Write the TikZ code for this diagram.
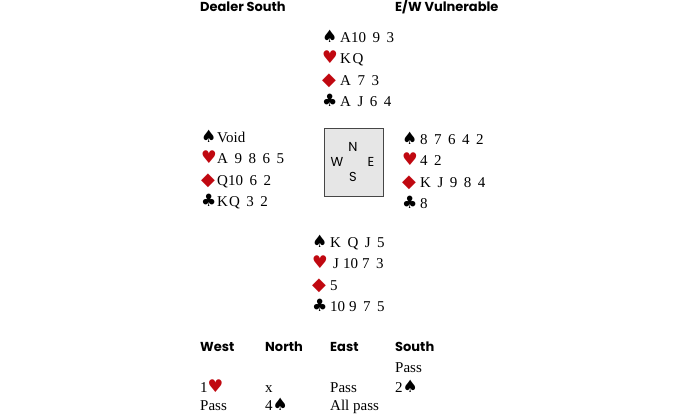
\documentclass[tikz,border=0pt]{standalone}
\usepackage{fontspec}
\setmainfont{Liberation Serif}
\newfontfamily\headfont{Poppins}
\newfontfamily\suitfont{DejaVu Sans}
\definecolor{cardred}{RGB}{192,8,16}
\definecolor{boxfill}{RGB}{230,230,230}
\definecolor{boxline}{RGB}{70,70,70}
\newcommand\gp{\hspace{6.5pt}}
\newcommand\sS{{\suitfont\fontsize{17}{18}\selectfont ♠}}
\newcommand\sH{{\suitfont\fontsize{17.5}{18}\selectfont\color{cardred}♥}}
\newcommand\sD{\raisebox{-0.8pt}{\suitfont\fontsize{18}{18}\selectfont\color{cardred}◆}}
\newcommand\sC{{\suitfont\fontsize{17}{18}\selectfont ♣}}
\newcommand\hrow[3][17pt]{\makebox[#1][l]{#2}#3}
\tikzset{
  handtxt/.style={anchor=base west, inner sep=0pt, font=\fontsize{15}{18}\selectfont},
  headtxt/.style={anchor=base west, inner sep=0pt, font=\headfont\bfseries\fontsize{13}{15}\selectfont},
  compass/.style={inner sep=0pt, font=\headfont\fontsize{13}{15}\selectfont},
  bidtxt/.style={anchor=base west, inner sep=0pt, font=\fontsize{15}{18}\selectfont},
}
\begin{document}
\begin{tikzpicture}[x=1pt,y=-1pt]
\useasboundingbox (0,0) rectangle (700,413);
% headings
\node[headtxt] (dealer) at (200,11) {Dealer South};
\node[headtxt] (vul) at (395,11) {E/W Vulnerable};
% North
\node[handtxt] (n1) at (322,42) {\hrow[18pt]{\sS}{A10\gp 9\gp 3}};
\node[handtxt] (n2) at (322,63.5) {\hrow[18pt]{\sH}{K\kern1.5pt Q}};
\node[handtxt] (n3) at (322,85) {\hrow[18pt]{\sD}{A\gp 7\gp 3}};
\node[handtxt] (n4) at (322,106.5) {\hrow[18pt]{\sC}{A\gp J\gp 6\gp 4}};
% West
\node[handtxt] (w1) at (201,142) {\hrow[16pt]{\sS}{Void}};
\node[handtxt] (w2) at (201,163.5) {\hrow[16pt]{\sH}{A\gp 9\gp 8\gp 6\gp 5}};
\node[handtxt] (w3) at (201,185) {\hrow[16pt]{\sD}{Q10\gp 6\gp 2}};
\node[handtxt] (w4) at (201,206.5) {\hrow[16pt]{\sC}{K\kern1pt Q\gp 3\gp 2}};
% compass box
\node[draw=boxline, fill=boxfill, line width=1pt, minimum width=59pt, minimum height=68pt, inner sep=0pt] (box) at (353.5,162) {};
\node[compass] (cn) at (353,147) {N};
\node[compass] (cw) at (337,162) {W};
\node[compass] (ce) at (371,162) {E};
\node[compass] (cs) at (353,177) {S};
% East
\node[handtxt] (e1) at (402,144) {\hrow[18pt]{\sS}{8\gp 7\gp 6\gp 4\gp 2}};
\node[handtxt] (e2) at (402,165.5) {\hrow[18pt]{\sH}{4\gp 2}};
\node[handtxt] (e3) at (402,187) {\hrow[18pt]{\sD}{K\gp J\gp 9\gp 8\gp 4}};
\node[handtxt] (e4) at (402,208.5) {\hrow[18pt]{\sC}{8}};
% South
\node[handtxt] (s1) at (312,247) {\hrow[18pt]{\sS}{K\gp Q\gp J\gp 5}};
\node[handtxt] (s2) at (312,268.5) {\hrow[18pt]{\sH}{\hspace{3pt}J\hspace{4pt}10\hspace{4pt}7\gp 3}};
\node[handtxt] (s3) at (312,290) {\hrow[18pt]{\sD}{5}};
\node[handtxt] (s4) at (312,311.5) {\hrow[18pt]{\sC}{10\hspace{4pt}9\gp 7\gp 5}};
% auction
\node[headtxt] (hw) at (200,351) {West};
\node[headtxt] (hn) at (265,351) {North};
\node[headtxt] (he) at (330,351) {East};
\node[headtxt] (hs) at (395,351) {South};
\node[bidtxt] (b1) at (395,372) {Pass};
\node[bidtxt] (b2) at (200,392) {1\sH};
\node[bidtxt] (b3) at (265,392) {x};
\node[bidtxt] (b4) at (330,392) {Pass};
\node[bidtxt] (b5) at (395,392) {2\sS};
\node[bidtxt] (b6) at (200,410) {Pass};
\node[bidtxt] (b7) at (265,410) {4\sS};
\node[bidtxt] (b8) at (330,410) {All pass};
\end{tikzpicture}
\end{document}
